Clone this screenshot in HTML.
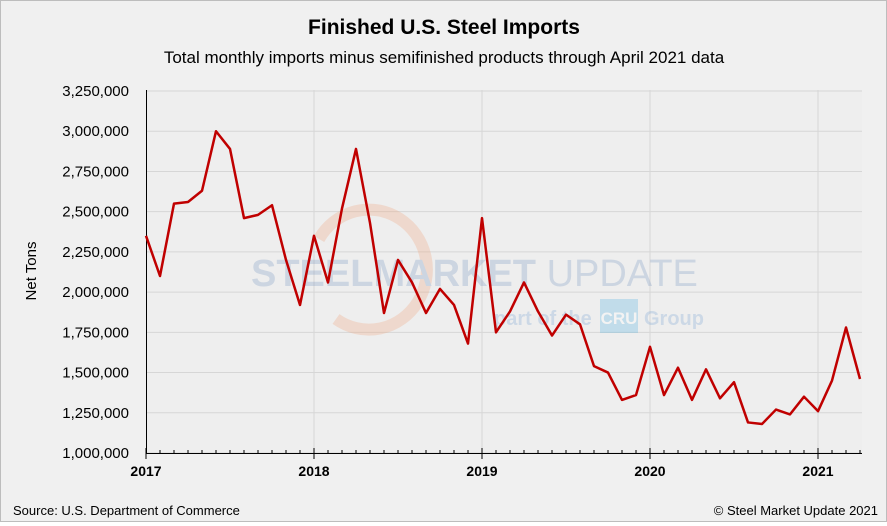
<!DOCTYPE html>
<html><head><meta charset="utf-8"><style>
body{margin:0;background:#fff}
#wrap{width:885px;height:520px;border:1px solid #bdbdbd;background:#f0f0f0;position:relative;font-family:"Liberation Sans",sans-serif}
</style></head><body>
<div id="wrap">
<svg id="svg" width="885" height="520" xmlns="http://www.w3.org/2000/svg">
<text x="443" y="33" text-anchor="middle" font-size="21" font-weight="bold" fill="#000">Finished U.S. Steel Imports</text>
<text x="443" y="62" text-anchor="middle" font-size="17" fill="#000">Total monthly imports minus semifinished products through April 2021 data</text>
<rect x="145" y="89" width="716" height="363" fill="#eeeeee"/>
<g id="grid"></g>
<g opacity="0.3">
<path d="M318,238 A58,60 0 1,1 335,318" fill="none" stroke="#f0a882" stroke-width="12"/>
<text x="250" y="285" font-size="38" font-weight="bold" fill="#7f9cc4">STEEL<tspan font-weight="bold">MARKET</tspan><tspan font-weight="normal"> UPDATE</tspan></text>
<text x="493" y="324" font-size="20" font-weight="bold" fill="#7fa9d4">part of the</text>
<rect x="599" y="298" width="38" height="34" fill="#5bb6e2"/>
<text x="618" y="323" font-size="17" font-weight="bold" fill="#fff" text-anchor="middle">CRU</text>
<text x="643" y="324" font-size="20" font-weight="bold" fill="#7fa9d4">Group</text>
</g>
<g id="axes"></g>
<g id="series"></g>
<text x="35" y="270" transform="rotate(-90 35 270)" text-anchor="middle" font-size="15" fill="#000">Net Tons</text>
<text x="12" y="514" font-size="13" fill="#000">Source: U.S. Department of Commerce</text>
<text x="877" y="514" text-anchor="end" font-size="13" fill="#000">© Steel Market Update 2021</text>
</svg>
</div>
<script>
const yTicks=[1000000,1250000,1500000,1750000,2000000,2250000,2500000,2750000,3000000,3250000];
const years=[2017,2018,2019,2020,2021];
const values=[2350,2100,2550,2560,2630,3000,2890,2460,2480,2540,2200,1920,
2350,2060,2520,2890,2430,1870,2200,2060,1870,2020,1920,1680,
2460,1750,1880,2060,1880,1730,1860,1800,1540,1500,1330,1360,
1660,1360,1530,1330,1520,1340,1440,1190,1180,1270,1240,1350,
1260,1450,1780,1460].map(v=>v*1000);
const NS="http://www.w3.org/2000/svg";
const x0=145,yr=168;
const xS=m=>x0+m*yr/12;
const yS=v=>452-(v-1000000)/2250000*362;
const grid=document.getElementById('grid'),axes=document.getElementById('axes'),ser=document.getElementById('series');
function mk(tag,at,parent){const e=document.createElementNS(NS,tag);for(const k in at)e.setAttribute(k,at[k]);parent.appendChild(e);return e;}
yTicks.forEach(t=>{
const l=mk('line',{x1:x0,x2:861,y1:yS(t),y2:yS(t),stroke:'#d6d6d6','stroke-width':1},grid);


const tx=mk('text',{x:128,y:yS(t)+5,'text-anchor':'end','font-size':15,fill:'#000'},axes);
tx.textContent=t.toLocaleString('en-US');


});
years.forEach((y,i)=>{
const x=x0+i*yr;
if(i>0){const g=mk('line',{x1:x,x2:x,y1:89,y2:452,stroke:'#d6d6d6'},grid);

}
const tx=mk('text',{x:x,y:475,'text-anchor':'middle','font-size':14,'font-weight':'bold',fill:'#000'},axes);
tx.textContent=y;


});
for(let m=0;m<=51;m++){const x=xS(m);const big=m%12===0;
const t=mk('line',{x1:x,x2:x,y1:big?447:449,y2:big?458:453,stroke:'#000'},axes);

}
const ax=mk('line',{x1:x0,x2:861,y1:452.5,y2:452.5,stroke:'#000'},axes);


const ay=mk('line',{x1:x0+.5,x2:x0+.5,y1:89,y2:453,stroke:'#000'},axes);


const p=mk('polyline',{points:values.map((v,i)=>xS(i)+','+yS(v)).join(' '),fill:'none',stroke:'#c00000','stroke-width':2.5,'stroke-linejoin':'round'},ser);


</script>
</body></html>
